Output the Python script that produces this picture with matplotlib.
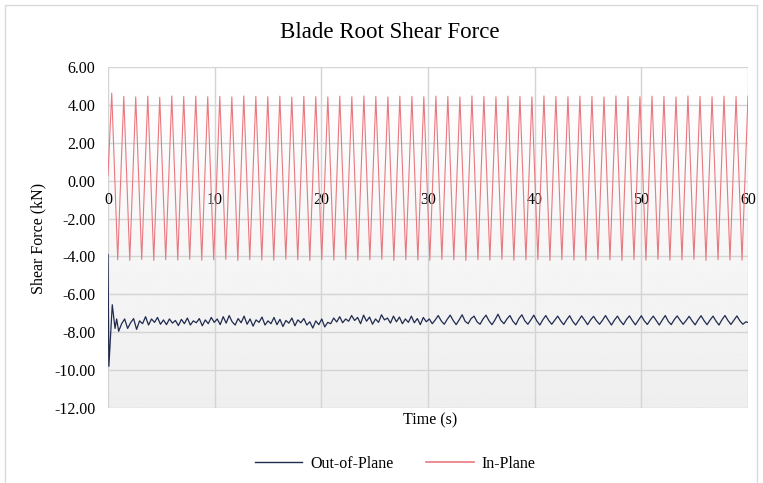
import numpy as np
import matplotlib.pyplot as plt
from matplotlib.lines import Line2D
from matplotlib.patches import Rectangle


OUTPUT_FILE = "out.png"

TITLE = "Blade Root Shear Force"
X_LABEL = "Time (s)"
Y_LABEL = "Shear Force (kN)"
SERIES_NAMES = ["Out-of-Plane", "In-Plane"]

X_TICKS = [0, 10, 20, 30, 40, 50, 60]
Y_TICKS = [-12, -10, -8, -6, -4, -2, 0, 2, 4, 6]

# In-plane force: crest / trough turning points of the rotor-frequency swing.
in_plane_time = [
    0.00, 0.35, 0.91, 1.48, 2.04, 2.60, 3.16, 3.73, 4.29, 4.85,
    5.41, 5.98, 6.54, 7.10, 7.66, 8.23, 8.79, 9.35, 9.91, 10.48,
    11.04, 11.61, 12.17, 12.73, 13.29, 13.86, 14.42, 14.98, 15.54, 16.11,
    16.67, 17.23, 17.79, 18.36, 18.92, 19.48, 20.04, 20.61, 21.17, 21.73,
    22.29, 22.86, 23.42, 23.99, 24.55, 25.11, 25.67, 26.24, 26.80, 27.36,
    27.92, 28.49, 29.05, 29.61, 30.17, 30.74, 31.30, 31.86, 32.42, 32.99,
    33.55, 34.12, 34.68, 35.24, 35.80, 36.37, 36.93, 37.49, 38.05, 38.62,
    39.18, 39.74, 40.30, 40.87, 41.43, 41.99, 42.55, 43.12, 43.68, 44.24,
    44.80, 45.37, 45.93, 46.50, 47.06, 47.62, 48.18, 48.75, 49.31, 49.87,
    50.43, 51.00, 51.56, 52.12, 52.68, 53.25, 53.81, 54.37, 54.93, 55.50,
    56.06, 56.63, 57.19, 57.75, 58.31, 58.88, 59.44, 60.00,
]
in_plane_force = [
    0.30, 4.62, -4.18, 4.45, -4.20, 4.42, -4.16, 4.46, -4.21, 4.40,
    -4.17, 4.47, -4.19, 4.44, -4.15, 4.46, -4.20, 4.43, -4.18, 4.45,
    -4.16, 4.42, -4.21, 4.47, -4.17, 4.44, -4.19, 4.43, -4.20, 4.46,
    -4.15, 4.41, -4.18, 4.45, -4.21, 4.44, -4.17, 4.42, -4.19, 4.46,
    -4.16, 4.43, -4.20, 4.47, -4.18, 4.44, -4.15, 4.42, -4.21, 4.46,
    -4.17, 4.45, -4.19, 4.43, -4.20, 4.46, -4.16, 4.44, -4.18, 4.42,
    -4.21, 4.47, -4.17, 4.45, -4.19, 4.43, -4.15, 4.46, -4.20, 4.44,
    -4.18, 4.42, -4.16, 4.47, -4.21, 4.45, -4.17, 4.43, -4.19, 4.46,
    -4.20, 4.44, -4.15, 4.42, -4.18, 4.47, -4.21, 4.45, -4.17, 4.43,
    -4.19, 4.46, -4.16, 4.44, -4.20, 4.42, -4.18, 4.47, -4.15, 4.45,
    -4.21, 4.43, -4.17, 4.46, -4.19, 4.44, -4.20, 4.46,
]

# Out-of-plane force: start-up transient, then a regular sampled record.
oop_start_time = [0.00, 0.08, 0.40, 0.66, 0.81]
oop_start_force = [-3.90, -9.80, -6.55, -7.80, -7.30]

OOP_RECORD_START = 1.0
OOP_RECORD_STEP = 0.28
oop_record_force = [
    # 1 - 10 s
    -7.95, -7.55, -7.30, -7.80, -7.50, -7.28, -7.85, -7.40, -7.55, -7.18,
    -7.62, -7.30, -7.48, -7.22, -7.58, -7.35, -7.60, -7.30, -7.52, -7.38,
    -7.65, -7.32, -7.55, -7.25, -7.62, -7.40, -7.50, -7.28, -7.66, -7.35,
    -7.55, -7.22, -7.48,
    # 10 - 30 s
    -7.30, -7.60, -7.18, -7.52, -7.12, -7.45, -7.62, -7.28, -7.50, -7.15,
    -7.58, -7.30, -7.68, -7.35, -7.48, -7.20, -7.62, -7.40, -7.55, -7.22,
    -7.60, -7.32, -7.70, -7.38, -7.52, -7.25, -7.66, -7.35, -7.50, -7.28,
    -7.62, -7.45, -7.78, -7.40, -7.60, -7.30, -7.72, -7.48, -7.55, -7.25,
    -7.46, -7.18, -7.50, -7.30, -7.42, -7.12, -7.38, -7.22, -7.55, -7.10,
    -7.42, -7.20, -7.58, -7.30, -7.48, -7.08, -7.35, -7.25, -7.52, -7.15,
    -7.45, -7.20, -7.55, -7.30, -7.48, -7.15, -7.50, -7.28, -7.60, -7.22,
    -7.45,
    # 30 - 40 s
    -7.30, -7.55, -7.35, -7.12, -7.40, -7.58, -7.32, -7.10, -7.38, -7.60,
    -7.35, -7.08, -7.42, -7.55, -7.28, -7.15, -7.45, -7.58, -7.30, -7.10,
    -7.40, -7.60, -7.35, -7.05, -7.38, -7.55, -7.30, -7.12, -7.42, -7.60,
    -7.28, -7.08, -7.40, -7.58, -7.35, -7.10,
    # 40 - 60 s
    -7.40, -7.62, -7.35, -7.12, -7.38, -7.58, -7.36, -7.15,
    -7.40, -7.60, -7.34, -7.13, -7.42, -7.62, -7.38, -7.14,
    -7.36, -7.60, -7.35, -7.16, -7.40, -7.58, -7.37, -7.12,
    -7.38, -7.62, -7.36, -7.15, -7.41, -7.60, -7.33, -7.14,
    -7.39, -7.61, -7.37, -7.13, -7.40, -7.59, -7.35, -7.15,
    -7.38, -7.62, -7.36, -7.12, -7.42, -7.60, -7.34, -7.14,
    -7.37, -7.58, -7.38, -7.16, -7.40, -7.61, -7.35, -7.13,
    -7.39, -7.60, -7.36, -7.15, -7.41, -7.62, -7.34, -7.12,
    -7.38, -7.59, -7.37, -7.14, -7.40, -7.58, -7.45, -7.50,
]

OOP_COLOR = "#1f2a4e"
IP_COLOR = "#e9787f"
GRID_COLOR = "#d4d4d4"
FONT = "Liberation Serif"


def out_of_plane_series():
    record_time = OOP_RECORD_START + OOP_RECORD_STEP * np.arange(len(oop_record_force))
    time = np.concatenate([oop_start_time, record_time])
    force = np.concatenate([oop_start_force, oop_record_force])
    return time, force


def draw_chart():
    plt.rcParams["font.family"] = [FONT, "DejaVu Serif"]
    fig = plt.figure(figsize=(7.63, 4.83), dpi=100)

    # Light chart-area border.
    fig.patches.append(Rectangle((5 / 763, -0.01), 752 / 763, 1 - 5 / 483 + 0.01,
                                 transform=fig.transFigure, fill=False,
                                 edgecolor="#d9d9d9", linewidth=1.0))

    ax = fig.add_axes([108 / 763, 1 - 408 / 483, 640 / 763, 341 / 483])
    ax.set_xlim(0, 60)
    ax.set_ylim(-12, 6)

    # Plot-area fill fading from white to light grey.
    gradient = np.linspace(1.0, 0.935, 256).reshape(-1, 1)
    ax.imshow(gradient, extent=(0, 60, -12, 6), origin="upper", aspect="auto",
              cmap="gray", vmin=0, vmax=1, zorder=0)

    ax.set_xticks(X_TICKS)
    ax.set_yticks(Y_TICKS)
    ax.set_yticklabels([f"{v:.2f}" for v in Y_TICKS])
    ax.grid(True, color=GRID_COLOR, linewidth=1.0, zorder=1)
    ax.set_axisbelow(True)

    for spine in ax.spines.values():
        spine.set_visible(False)
    ax.spines["bottom"].set_position(("data", 0))
    ax.tick_params(axis="both", length=0, labelsize=11.5, colors="black")
    ax.tick_params(axis="x", pad=8)
    ax.tick_params(axis="y", pad=9)

    oop_time, oop_force = out_of_plane_series()
    ax.plot(oop_time, oop_force, color=OOP_COLOR, linewidth=0.9, zorder=3)
    ax.plot(in_plane_time, in_plane_force, color=IP_COLOR, linewidth=0.8, zorder=3)

    fig.text(390 / 763, 1 - 33 / 483, TITLE, ha="center", va="center", fontsize=16.5)
    fig.text(430 / 763, 1 - 420 / 483, X_LABEL, ha="center", va="center", fontsize=11.5)
    fig.text(38 / 763, 1 - 238 / 483, Y_LABEL, ha="center", va="center",
             rotation=90, fontsize=11.5)

    handles = [
        Line2D([], [], color=OOP_COLOR, linewidth=1.0),
        Line2D([], [], color=IP_COLOR, linewidth=1.2),
    ]
    fig.legend(handles, SERIES_NAMES, loc="center",
               bbox_to_anchor=(395 / 763, 1 - 464 / 483), ncol=2,
               frameon=False, fontsize=11.5, handlelength=3.0, columnspacing=2.0,
               handletextpad=0.5)

    fig.savefig(OUTPUT_FILE, dpi=100)
    plt.close(fig)


if __name__ == "__main__":
    draw_chart()
